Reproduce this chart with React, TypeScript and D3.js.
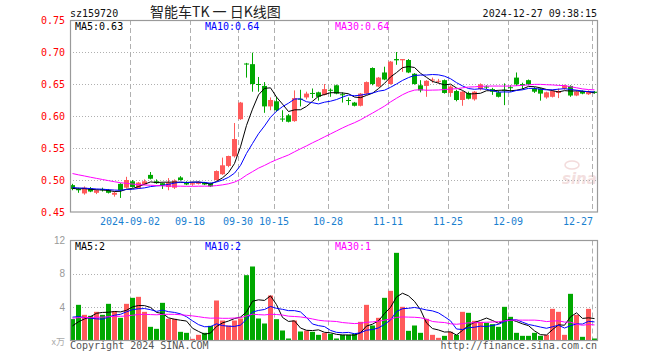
import React from 'react';
import * as d3 from 'd3';

const dates = [
  '2024-08-19','2024-08-20','2024-08-21','2024-08-22','2024-08-23','2024-08-26','2024-08-27','2024-08-28','2024-08-29','2024-08-30',
  '2024-09-02','2024-09-03','2024-09-04','2024-09-05','2024-09-06','2024-09-09','2024-09-10','2024-09-11','2024-09-12','2024-09-13',
  '2024-09-18','2024-09-19','2024-09-20','2024-09-23','2024-09-24','2024-09-25','2024-09-26','2024-09-27','2024-09-30',
  '2024-10-08','2024-10-09','2024-10-10','2024-10-11','2024-10-14','2024-10-15','2024-10-16','2024-10-17','2024-10-18',
  '2024-10-21','2024-10-22','2024-10-23','2024-10-24','2024-10-25','2024-10-28','2024-10-29','2024-10-30','2024-10-31',
  '2024-11-01','2024-11-04','2024-11-05','2024-11-06','2024-11-07','2024-11-08','2024-11-11','2024-11-12','2024-11-13',
  '2024-11-14','2024-11-15','2024-11-18','2024-11-19','2024-11-20','2024-11-21','2024-11-22','2024-11-25','2024-11-26',
  '2024-11-27','2024-11-28','2024-11-29','2024-12-02','2024-12-03','2024-12-04','2024-12-05','2024-12-06','2024-12-09',
  '2024-12-10','2024-12-11','2024-12-12','2024-12-13','2024-12-16','2024-12-17','2024-12-18','2024-12-19','2024-12-20',
  '2024-12-23','2024-12-24','2024-12-25','2024-12-26','2024-12-27',
];

const openP = [
  0.492,0.486,0.479,0.487,0.480,0.486,0.484,0.477,0.494,0.488,
  0.498,0.487,0.493,0.508,0.498,0.495,0.489,0.488,0.504,0.497,
  0.493,0.494,0.496,0.495,0.500,0.509,0.522,0.537,0.595,
  0.682,0.681,0.650,0.647,0.615,0.623,0.596,0.601,0.592,
  0.627,0.629,0.636,0.637,0.633,0.641,0.648,0.634,0.625,
  0.621,0.616,0.635,0.675,0.646,0.668,0.650,0.689,0.687,
  0.6875,0.666,0.648,0.647,0.656,0.654,0.656,0.636,0.639,
  0.625,0.636,0.626,0.642,0.646,0.642,0.637,0.641,0.645,
  0.660,0.650,0.656,0.643,0.643,0.629,0.630,0.636,0.643,
  0.647,0.632,0.638,0.634,0.638,
];
const highP = [
  0.494,0.488,0.490,0.489,0.485,0.488,0.486,0.482,0.495,0.505,
  0.500,0.497,0.501,0.5125,0.501,0.496,0.503,0.501,0.506,0.498,
  0.497,0.498,0.497,0.496,0.515,0.535,0.538,0.589,0.622,
  0.683,0.699,0.661,0.653,0.629,0.630,0.609,0.603,0.640,
  0.641,0.638,0.643,0.638,0.650,0.643,0.649,0.637,0.629,
  0.622,0.636,0.654,0.676,0.661,0.677,0.686,0.700,0.689,
  0.689,0.667,0.656,0.656,0.660,0.658,0.657,0.648,0.641,
  0.639,0.638,0.639,0.651,0.648,0.644,0.640,0.651,0.648,
  0.668,0.652,0.657,0.645,0.644,0.638,0.641,0.643,0.649,
  0.648,0.640,0.640,0.640,0.639,
];
const lowP = [
  0.484,0.480,0.477,0.481,0.478,0.482,0.479,0.474,0.472,0.487,
  0.488,0.486,0.492,0.501,0.494,0.486,0.484,0.486,0.499,0.492,
  0.491,0.493,0.492,0.489,0.499,0.508,0.520,0.535,0.594,
  0.660,0.638,0.638,0.605,0.609,0.607,0.591,0.590,0.591,
  0.615,0.626,0.628,0.624,0.632,0.630,0.634,0.621,0.617,
  0.615,0.615,0.633,0.648,0.645,0.656,0.649,0.680,0.669,
  0.667,0.649,0.637,0.630,0.652,0.651,0.635,0.630,0.623,
  0.616,0.626,0.624,0.640,0.642,0.633,0.629,0.617,0.638,
  0.647,0.642,0.648,0.636,0.624,0.627,0.629,0.628,0.641,
  0.630,0.631,0.634,0.633,0.635,
];
const closeP = [
  0.486,0.484,0.488,0.482,0.484,0.484,0.480,0.480,0.484,0.500,
  0.489,0.496,0.498,0.502,0.495,0.492,0.496,0.499,0.500,0.493,
  0.495,0.497,0.493,0.490,0.514,0.523,0.5375,0.564,0.621,
  0.681,0.650,0.649,0.615,0.625,0.609,0.595,0.591,0.628,
  0.626,0.635,0.635,0.630,0.642,0.640,0.635,0.633,0.624,
  0.616,0.635,0.653,0.650,0.660,0.657,0.685,0.687,0.689,
  0.668,0.650,0.640,0.655,0.657,0.655,0.636,0.646,0.625,
  0.638,0.627,0.638,0.6495,0.645,0.638,0.630,0.640,0.644,
  0.6495,0.648,0.6495,0.638,0.635,0.637,0.639,0.639,0.648,
  0.632,0.638,0.635,0.638,0.636,
];
// up (red) / down (green) flag
const upDay = [
  0,0,1,0,1,0,0,1,0,1,
  0,1,1,0,0,0,1,1,0,0,
  1,1,0,0,1,1,1,1,1,
  0,0,0,0,1,0,0,0,1,
  0,1,0,0,1,0,0,0,0,
  0,1,1,0,1,0,1,0,1,
  0,0,0,1,1,1,0,1,0,
  1,0,1,1,0,0,0,0,0,
  0,0,0,0,0,1,1,1,1,
  0,1,0,1,0,
];
// volume, in 万
const volume = [
  2.57,4.28,3.08,2.96,3.44,3.08,4.40,3.52,2.72,4.40,
  5.12,5.24,3.44,1.64,1.40,4.52,2.60,2.60,1.04,0.92,
  0.20,0.68,0.92,1.76,4.80,2.40,1.80,2.40,2.64,
  7.84,8.88,2.64,2.04,5.40,2.56,1.20,0.24,2.40,
  1.08,1.20,1.04,0.68,0.92,0.80,0.24,0.68,0.68,
  0.80,2.24,4.28,1.80,2.72,5.12,5.96,10.52,4.04,
  1.16,1.80,0.92,2.60,0.68,0.32,0.56,1.04,0.68,
  3.44,3.32,2.36,2.24,2.12,1.96,1.64,4.04,2.84,
  0.92,0.56,0.56,0.92,0.56,0.68,3.80,3.44,0.68,
  5.60,3.08,0.44,3.80,0.24,
];
// closes and volumes of the 29 sessions before the window, estimated from where the MA lines start
const priorClose = [
  0.545,0.542,0.540,0.538,0.536,0.534,0.532,0.530,0.528,0.525,
  0.520,0.516,0.513,0.510,0.508,0.506,0.503,0.500,0.498,0.496,
  0.492,0.490,0.489,0.490,0.488,0.487,0.486,0.488,0.487,
];
const priorVolume = [
  2.4,2.9,2.2,3.1,2.6,2.8,2.3,2.5,3.0,2.7,
  2.4,2.9,2.6,2.2,2.8,2.5,2.7,2.6,2.9,2.3,
  3.6,4.2,3.9,4.1,3.45,1.8,1.4,1.6,1.4,
];

const priceTicks = [0.45, 0.5, 0.55, 0.6, 0.65, 0.7, 0.75];
const volTicks = [4, 8, 12];
const dateTicks = ['2024-09-02','2024-09-18','2024-09-30','2024-10-15','2024-10-28','2024-11-11','2024-11-25','2024-12-09','2024-12-27'];
const dateTickLabels = ['2024-09-02','09-18','09-30','10-15','10-28','11-11','11-25','12-09','12-27'];
const priceLegend = ['MA5:0.63', 'MA10:0.64', 'MA30:0.64'];
const volLegend = ['MA5:2', 'MA10:2', 'MA30:1'];
const maPeriods = [5, 10, 30];
const maColors = ['#000000', '#0000ff', '#ff00ff'];

const RED = '#ff5a5a';
const GREEN = '#00a800';
const MONO = '"DejaVu Sans Mono", "Liberation Mono", monospace';

function movingAvg(prior: number[], vals: number[], n: number): number[] {
  const all = prior.concat(vals);
  return vals.map((_, i) => {
    const idx = prior.length + i;
    const s = all.slice(Math.max(0, idx - n + 1), idx + 1);
    return d3.mean(s) as number;
  });
}

export default function App() {
  const L = 70, R = 597;
  const x = d3.scaleBand<string>().domain(dates).range([L, L + dates.length * 6]).padding(0);
  const y = d3.scaleLinear().domain([0.45, 0.75]).range([212, 20]);
  const yv = d3.scaleLinear().domain([0, 12]).range([340.5, 240.5]);
  const cx = (d: string) => (x(d) as number) + 2.5;

  const priceMA = maPeriods.map(n => movingAvg(priorClose, closeP, n));
  const volMA = maPeriods.map(n => movingAvg(priorVolume, volume, n));
  const line = (sc: d3.ScaleLinear<number, number>) =>
    d3.line<number>().x((_, i) => cx(dates[i])).y(v => sc(v));

  const gridColor = '#b0b0b0';
  const frameColor = '#9a9a9a';

  return (
    <svg width={660} height={360} style={{ position: 'absolute', left: 0, top: 0, background: '#fff' }}>
      <rect x={0} y={0} width={660} height={360} fill="#fff" />
      {/* watermark */}
      <g opacity={0.5}>
        <ellipse cx={572} cy={165} rx={7} ry={4} fill="none" stroke="#e8b8b8" strokeWidth={1.5} />
        <text x={562} y={184} fontFamily="'DejaVu Sans', sans-serif" fontSize={15} fontWeight="bold" fontStyle="italic" fill="#e8c0c0">sina</text>
      </g>
      {/* title */}
      <text x={70} y={16.5} fontFamily={MONO} fontSize={10} fill="#111">sz159720</text>
      <text x={150} y={17} fontFamily='"Noto Sans CJK SC", sans-serif' fontSize={14} fill="#222">智能车TK 一 日K线图</text>
      <text x={597} y={16.5} fontFamily={MONO} fontSize={10} fill="#111" textAnchor="end">2024-12-27 09:38:15</text>

      {/* price grid */}
      {priceTicks.filter(t => t > 0.45 && t < 0.75).map(t => (
        <line key={'hp' + t} x1={L} x2={R} y1={Math.round(y(t)) + 0.5} y2={Math.round(y(t)) + 0.5} stroke={gridColor} strokeDasharray="1,2" />
      ))}
      {dateTicks.map(d => (
        <line key={'vp' + d} x1={(x(d) as number) + 0.5} x2={(x(d) as number) + 0.5} y1={20} y2={212} stroke={gridColor} strokeDasharray="5,3" />
      ))}
      {/* volume grid */}
      {volTicks.filter(t => t < 12).map(t => (
        <line key={'hv' + t} x1={L} x2={R} y1={Math.round(yv(t)) + 0.5} y2={Math.round(yv(t)) + 0.5} stroke={gridColor} strokeDasharray="1,2" />
      ))}
      {dateTicks.map(d => (
        <line key={'vv' + d} x1={(x(d) as number) + 0.5} x2={(x(d) as number) + 0.5} y1={240.5} y2={340.5} stroke={gridColor} strokeDasharray="5,3" />
      ))}

      {/* candles */}
      {dates.map((d, i) => {
        const col = upDay[i] ? RED : GREEN;
        const x0 = x(d) as number;
        const top = y(Math.max(openP[i], closeP[i]));
        const bot = y(Math.min(openP[i], closeP[i]));
        return (
          <g key={'c' + d}>
            <rect x={x0 + 2} y={y(highP[i])} width={1} height={Math.max(1, y(lowP[i]) - y(highP[i]))} fill={col} />
            <rect x={x0} y={top} width={5} height={Math.max(1, bot - top)} fill={col} />
          </g>
        );
      })}
      {/* volume bars */}
      {dates.map((d, i) => (
        <rect key={'v' + d} x={x(d) as number} y={yv(volume[i])} width={5} height={340.5 - yv(volume[i])} fill={upDay[i] ? RED : GREEN} />
      ))}

      {/* MA lines */}
      {priceMA.map((s, k) => (
        <path key={'pm' + k} d={line(y)(s) as string} fill="none" stroke={maColors[k]} strokeWidth={1} />
      ))}
      {volMA.map((s, k) => (
        <path key={'vm' + k} d={line(yv)(s) as string} fill="none" stroke={maColors[k]} strokeWidth={1} />
      ))}

      {/* frames */}
      <rect x={L + 0.5} y={20.5} width={R - L} height={191.5} fill="none" stroke={frameColor} strokeWidth={1.2} />
      <rect x={L + 0.5} y={240.5} width={R - L} height={100} fill="none" stroke={frameColor} strokeWidth={1.2} />

      {/* legends */}
      {priceLegend.map((t, k) => (
        <text key={'pl' + k} x={[75, 205, 335][k]} y={29.5} fontFamily={MONO} fontSize={10} fill={maColors[k]}>{t}</text>
      ))}
      {volLegend.map((t, k) => (
        <text key={'vl' + k} x={[75, 205, 335][k]} y={250} fontFamily={MONO} fontSize={10} fill={maColors[k]}>{t}</text>
      ))}

      {/* axis labels */}
      {priceTicks.map(t => (
        <text key={'pt' + t} x={65} y={y(t) + 3.5} fontFamily={MONO} fontSize={10} fill="#ff0000" textAnchor="end">{t.toFixed(2)}</text>
      ))}
      {volTicks.map(t => (
        <text key={'vt' + t} x={65} y={yv(t) + 3.5} fontFamily='"Liberation Sans", sans-serif' fontSize={10} fill="#999" textAnchor="end">{t}</text>
      ))}
      <text x={65} y={345} fontFamily='"Noto Sans CJK SC", sans-serif' fontSize={9} fill="#aaa" textAnchor="end">x万</text>
      {dateTicks.map((d, k) => (
        <text key={'dt' + d} x={k === dateTicks.length - 1 ? (x(d) as number) + 1 : (x(d) as number)} y={225} fontFamily={MONO} fontSize={10} fill="#1a80d0" textAnchor={k === dateTicks.length - 1 ? 'end' : 'middle'}>{dateTickLabels[k]}</text>
      ))}
      <text x={70} y={349} fontFamily={MONO} fontSize={10} fill="#555">Copyright 2024 SINA.COM</text>
      <text x={597} y={349} fontFamily={MONO} fontSize={10} fill="#555" textAnchor="end">http://finance.sina.com.cn</text>
    </svg>
  );
}
